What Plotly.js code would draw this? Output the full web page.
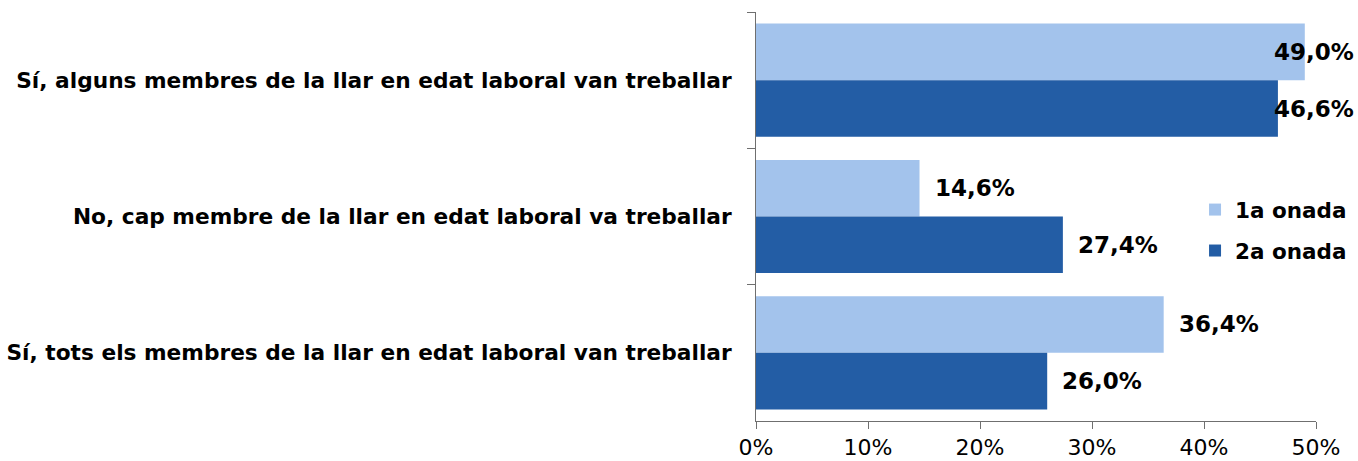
<!DOCTYPE html>
<html><head><meta charset="utf-8">
<script src="https://cdn.plot.ly/plotly-3.0.1.min.js"></script>
<style>body{margin:0;background:#fff}#c{width:1358px;height:461px}</style>
</head><body><div id="c"></div>
<script>
const categories = [
  "Sí, alguns membres de la llar en edat laboral van treballar",
  "No, cap membre de la llar en edat laboral va treballar",
  "Sí, tots els membres de la llar en edat laboral van treballar"
];
const seriesNames = ["1a onada", "2a onada"];
const wave1 = [49.0, 14.6, 36.4];
const wave2 = [46.6, 27.4, 26.0];
const xTicks = [0, 10, 20, 30, 40, 50];

const colors = ["#A3C3EC", "#235DA5"];
const fontFam = "DejaVu Sans, Verdana, sans-serif";

const traces = [wave1, wave2].map((vals, i) => ({
  type: "bar", orientation: "h",
  name: seriesNames[i], legendgroup: "g" + i,
  y: categories, x: vals,
  marker: {color: colors[i]}, hoverinfo: "skip"
}));

const annotations = [];
[wave1, wave2].forEach((vals, ti) => {
  vals.forEach((v, ci) => {
    annotations.push({
      x: Math.min(v, 44.95), y: categories[ci], xref: "x", yref: "y",
      text: v.toFixed(1).replace(".", ",") + "%",
      showarrow: false, xanchor: "left", xshift: 13,
      yshift: ti === 0 ? 28.5 : -28.5,
      font: {family: fontFam, size: 23, color: "#000", weight: 700}
    });
  });
});

const layout = {
  width: 1358, height: 461,
  margin: {l: 756, r: 42, t: 12, b: 40, autoexpand: false},
  paper_bgcolor: "#fff", plot_bgcolor: "#fff",
  barmode: "group", bargap: 0.17, bargroupgap: 0,
  showlegend: true,
  legend: {x: 0.784, y: 0.567, xanchor: "left", yanchor: "top",
    font: {family: fontFam, size: 21.5, color: "#000", weight: 700},
    bgcolor: "rgba(0,0,0,0)", tracegroupgap: 10},
  xaxis: {range: [0, 50], tickvals: xTicks, ticktext: xTicks.map(t => t + "%"),
    showgrid: false, zeroline: false, showline: true, linecolor: "#6f6f6f", linewidth: 1,
    ticks: "outside", ticklen: 7, tickcolor: "#6f6f6f",
    tickfont: {family: fontFam, size: 22, color: "#000"}},
  yaxis: {type: "category", autorange: "reversed", showgrid: false, zeroline: false,
    showline: true, linecolor: "#6f6f6f", linewidth: 1,
    ticks: "outside", ticklen: 8, tickcolor: "#6f6f6f", tickson: "boundaries",
    ticklabelstandoff: 19,
    tickfont: {family: fontFam, size: 21.7, color: "#000", weight: 700}},
  annotations: annotations
};
Plotly.newPlot("c", traces, layout, {displayModeBar: false, staticPlot: true});
</script></body></html>
